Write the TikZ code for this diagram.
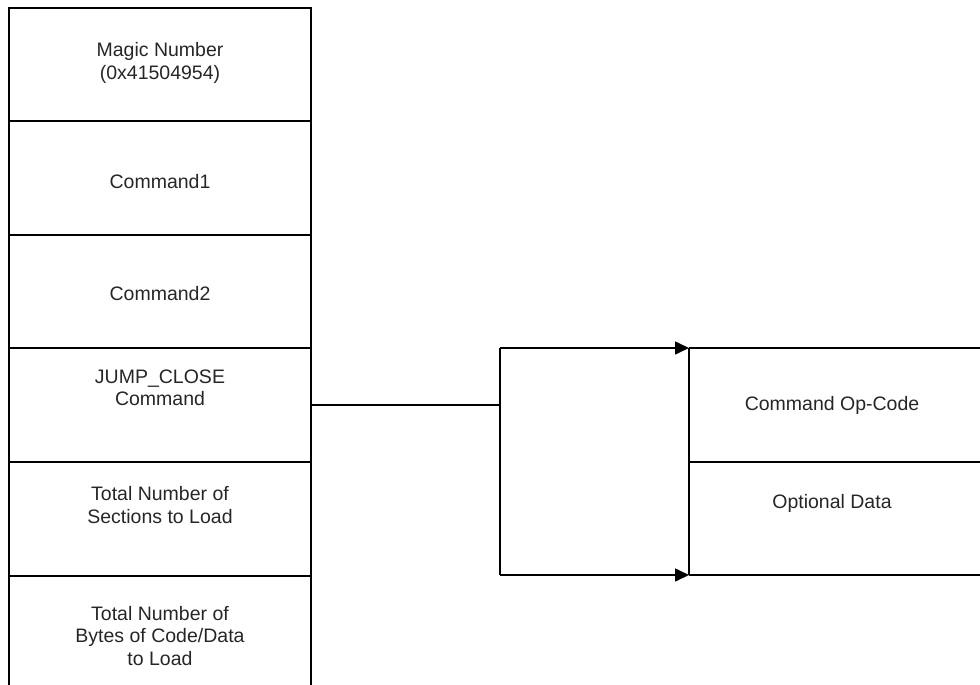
\documentclass[tikz,border=0pt]{standalone}
\usepackage{fontspec}
\setmainfont{Liberation Sans}
\usetikzlibrary{arrows.meta}
\begin{document}
\begin{tikzpicture}[x=1pt,y=-1pt,
  lbl/.style={align=center,font=\fontsize{19.5}{22.5}\selectfont,text=black!85,inner sep=0pt},
  frame/.style={line width=1.8pt,black},
  rframe/.style={line width=1.5pt,black},
  conn/.style={line width=1.6pt,black},
  arr/.style={conn,-{Triangle[length=14pt,width=13pt]}}]
\useasboundingbox (0,0) rectangle (980,685);
% left column outline
\draw[frame] (9,685) -- (9,8) -- (311,8) -- (311,685);
\foreach \yy in {121,235,348,462,576} \draw[frame] (9,\yy) -- (311,\yy);
% right box outline
\draw[rframe] (689,348) -- (980,348);
\draw[rframe] (689,462) -- (980,462);
\draw[rframe] (689,575) -- (980,575);
\draw[rframe] (689,348) -- (689,575);
% labels
\node[lbl] (magic) at (160,63) {Magic Number\\(0x41504954)};
\node[lbl] (cmd1) at (160,182) {Command1};
\node[lbl] (cmd2) at (160,294) {Command2};
\node[lbl] (jump) at (160,388) {JUMP\_CLOSE\\Command};
\node[lbl] (sect) at (160,505) {Total Number of\\Sections to Load};
\node[lbl] (bytes) at (160,636) {Total Number of\\Bytes of Code/Data\\to Load};
\node[lbl] (opcode) at (832,405) {Command Op-Code};
\node[lbl] (opt) at (832,503) {Optional Data};
% connector anchors
\coordinate (jout) at (311,405);
\coordinate (split) at (500,405);
\coordinate (stop) at (500,348);
\coordinate (sbot) at (500,575);
\coordinate (intop) at (689,348);
\coordinate (inbot) at (689,575);
\draw[conn] (jout) -- (split);
\draw[conn] (stop) -- (sbot);
\draw[arr] (stop) -- (intop);
\draw[arr] (sbot) -- (inbot);
\end{tikzpicture}
\end{document}
